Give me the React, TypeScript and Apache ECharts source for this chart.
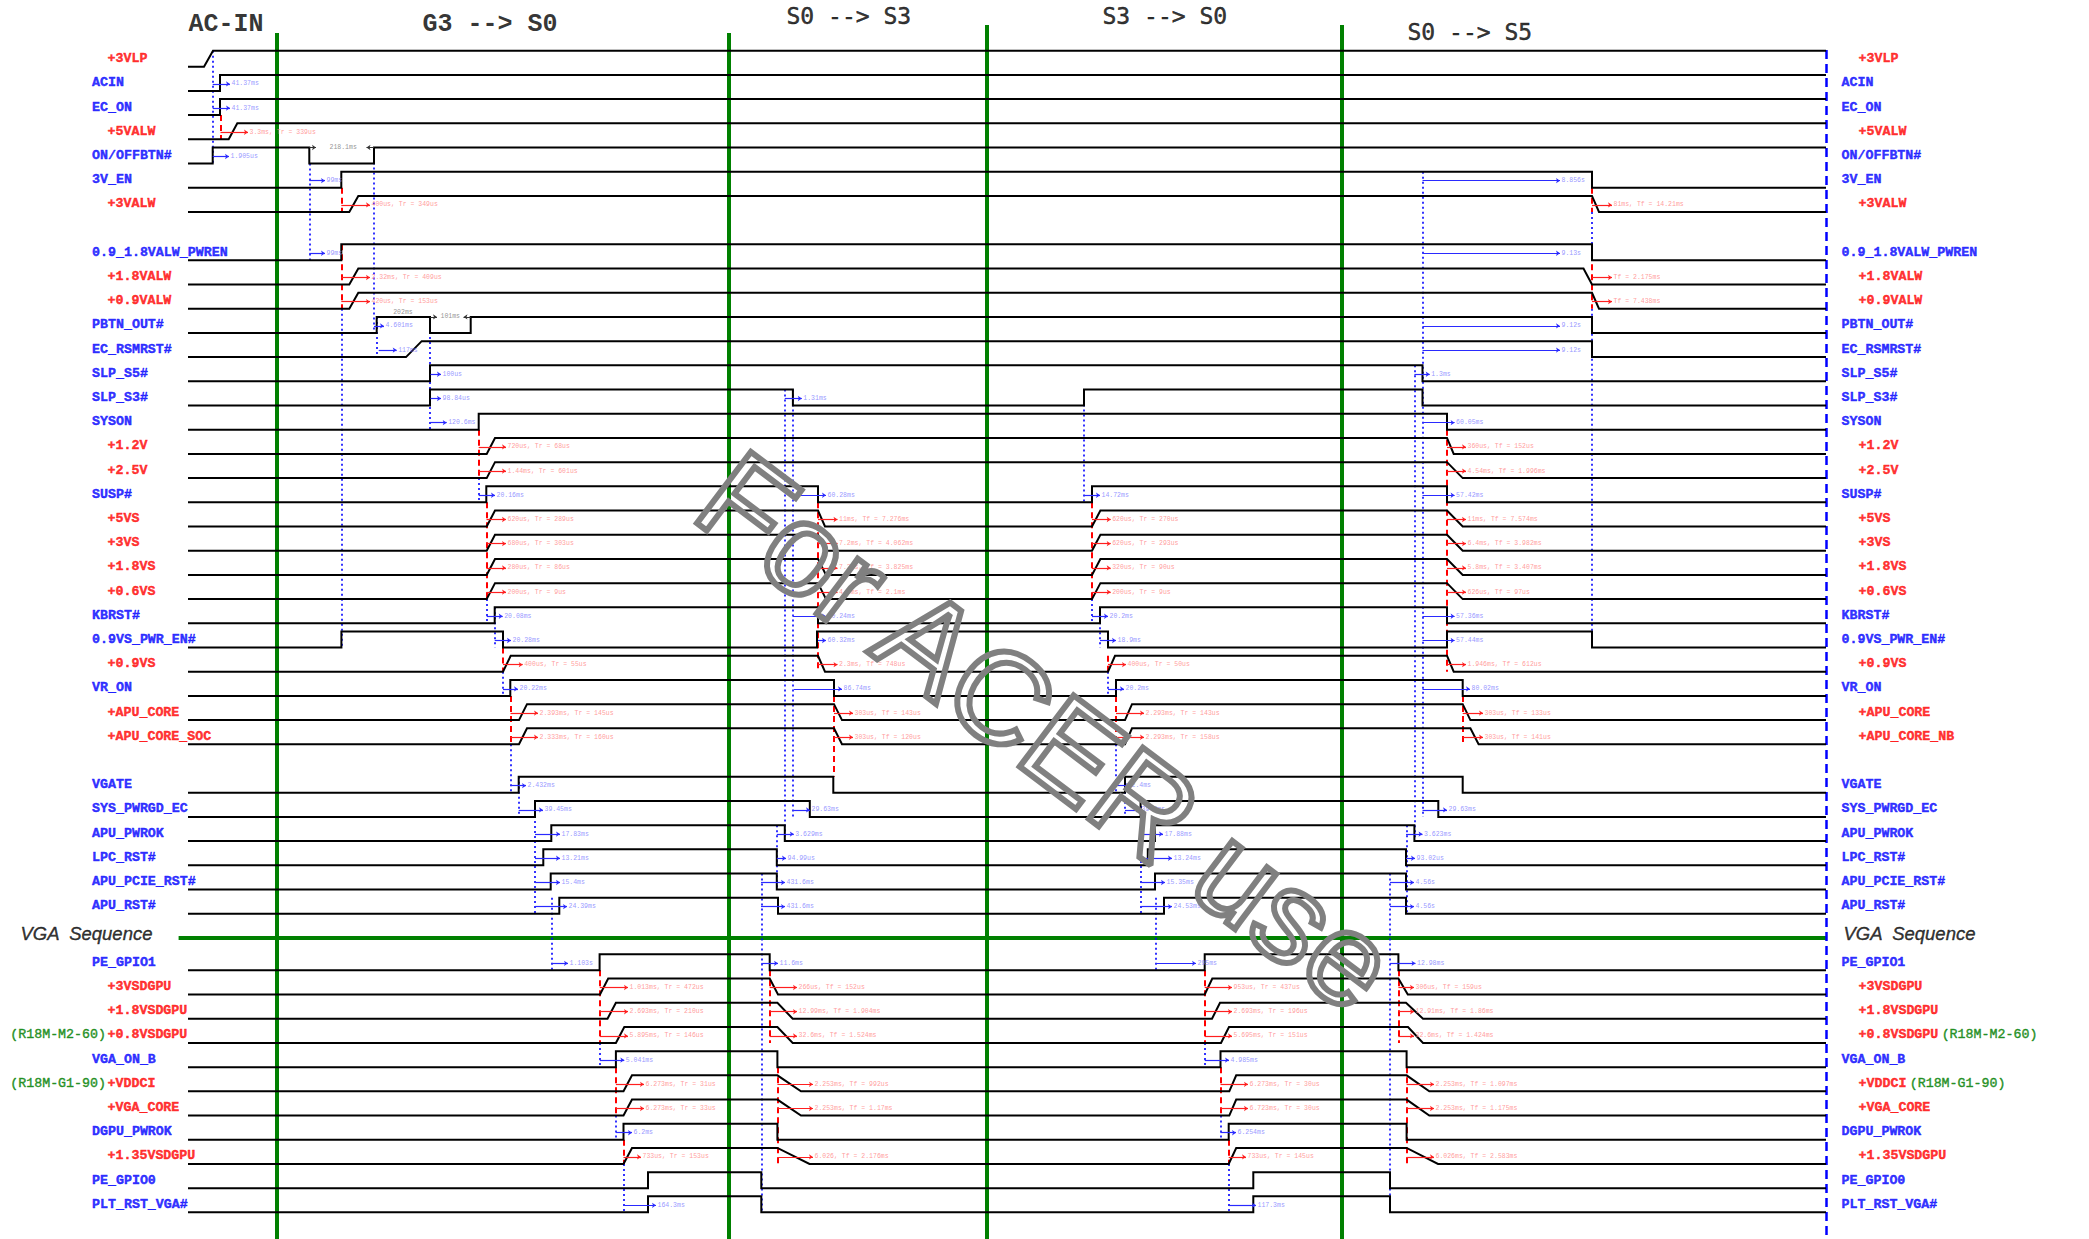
import React, { useEffect, useRef } from "react";
import * as echarts from "echarts";

// ---------------- data ----------------
const leftNames = ["+3VLP","ACIN","EC_ON","+5VALW","ON/OFFBTN#","3V_EN","+3VALW","0.9_1.8VALW_PWREN","+1.8VALW","+0.9VALW","PBTN_OUT#","EC_RSMRST#","SLP_S5#","SLP_S3#","SYSON","+1.2V","+2.5V","SUSP#","+5VS","+3VS","+1.8VS","+0.6VS","KBRST#","0.9VS_PWR_EN#","+0.9VS","VR_ON","+APU_CORE","+APU_CORE_SOC","VGATE","SYS_PWRGD_EC","APU_PWROK","LPC_RST#","APU_PCIE_RST#","APU_RST#","PE_GPIO1","+3VSDGPU","+1.8VSDGPU","+0.8VSDGPU","VGA_ON_B","+VDDCI","+VGA_CORE","DGPU_PWROK","+1.35VSDGPU","PE_GPIO0","PLT_RST_VGA#"];
const rightNames = leftNames.map((n) => (n === "+APU_CORE_SOC" ? "+APU_CORE_NB" : n));
// 1 = power rail (red label), 0 = control signal (blue label)
const railFlags = [1,0,0,1,0,0,1,0,1,1,0,0,0,0,0,1,1,0,1,1,1,1,0,0,1,0,1,1,0,0,0,0,0,0,0,1,1,1,0,1,1,0,1,0,0];
// row slot of each signal (gaps after +3VALW, +APU_CORE_SOC and the VGA divider)
const rowSlots = [0,1,2,3,4,5,6,8,9,10,11,12,13,14,15,16,17,18,19,20,21,22,23,24,25,26,27,28,30,31,32,33,34,35,37.34,38.34,39.34,40.34,41.34,42.34,43.34,44.34,45.34,46.34,47.34];
const boardTagIdx = [37, 39];
const boardTags = ["(R18M-M2-60)", "(R18M-G1-90)"];

// transitions per signal on the timeline: [start, end] (start==end -> step, else ramp); level toggles each edge
const edges = [
  [[204,213]],
  [[220,220]],
  [[220,220]],
  [[228.7,237.3]],
  [[212.7,212.7],[309.3,309.3],[374,374]],
  [[341.3,341.3],[1592,1592]],
  [[349.3,358.3],[1592,1599]],
  [[341.3,341.3],[1592,1592]],
  [[349.3,358.3],[1583.5,1592]],
  [[349.3,358.3],[1592,1599]],
  [[376.7,376.7],[430,430],[470.7,470.7],[1592,1592]],
  [[406,421.7],[1592,1592]],
  [[430,430],[1422.5,1422.5]],
  [[430,430],[792.9,792.9],[1084,1084],[1422.5,1422.5]],
  [[478.7,478.7],[1447,1447]],
  [[486.7,495],[1447,1453.7]],
  [[486.7,495],[1447,1462.7]],
  [[486.3,486.3],[818,818],[1092,1092],[1447,1447]],
  [[486.7,495],[818,825],[1092,1100.4],[1447,1462.7]],
  [[486.7,495],[818,826],[1092,1100.4],[1447,1462.7]],
  [[486.7,495],[818,826],[1092,1100.4],[1447,1462.7]],
  [[486.7,495],[818,826],[1092,1100.4],[1447,1462.7]],
  [[494.7,494.7],[818,818],[1100,1100],[1447,1447]],
  [[341.4,341.4],[503,503],[817,817],[1108,1108],[1447,1447],[1592,1592]],
  [[503,510.7],[818,825],[1108,1115],[1447,1453.7]],
  [[510.3,510.3],[834,834],[1116,1116],[1462.7,1462.7]],
  [[519,527],[834,842],[1125,1132],[1462.7,1470.4]],
  [[519,527],[834,842],[1125,1132],[1470.4,1478.6]],
  [[518.7,518.7],[833.3,833.3],[1125,1125],[1462.7,1462.7]],
  [[535,535],[809.8,809.8],[1140.6,1140.6],[1438.3,1438.3]],
  [[551.3,551.3],[784.8,784.8],[1155,1155],[1414.4,1414.4]],
  [[543.3,543.3],[776.8,776.8],[1147.8,1147.8],[1406,1406]],
  [[550.7,550.7],[776.8,776.8],[1155,1155],[1406,1406]],
  [[559.3,559.3],[778,778],[1164,1164],[1406,1406]],
  [[599.6,599.6],[769.7,769.7],[1204.7,1204.7],[1398.4,1398.4]],
  [[600,608.2],[769.7,778],[1204.7,1212.3],[1398.4,1407.8]],
  [[607.5,615.9],[777.4,792.7],[1212,1220],[1406,1423]],
  [[615.9,624.3],[777.4,792.7],[1221,1229],[1408,1423]],
  [[615.9,615.9],[777.4,777.4],[1220.5,1220.5],[1406.6,1406.6]],
  [[623.5,632],[777.4,801],[1229.3,1236.2],[1406.6,1429.3]],
  [[623.5,632],[777.4,801],[1229.3,1236.2],[1406.6,1429.3]],
  [[623.5,623.5],[777.4,777.4],[1228.7,1228.7],[1406.6,1406.6]],
  [[623.5,632],[777.4,809.5],[1228.7,1236.2],[1406.6,1438]],
  [[648,648],[761.3,761.3],[1253.3,1253.3],[1390,1390]],
  [[648,648],[761.3,761.3],[1253.3,1253.3],[1390,1390]],
];

const phaseNames = ["AC-IN", "G3 --> S0", "S0 --> S3", "S3 --> S0", "S0 --> S5"];
const phaseBounds = [277, 729, 987, 1342];

// timing annotations: [row slot, from, to, text]
const blueNotes: [number, number, number, string][] = [
  [1,212.7,230,"41.37ms"],[2,212.7,230,"41.37ms"],[4,212.7,229,"1.905us"],[5,309.3,325,"99ms"],[8,309.3,325,"99ms"],
  [11,374,384,"4.601ms"],[12,378.7,396.7,"117ms"],[13,430.5,441,"100us"],[14,430.5,441,"98.84us"],[15,430,446.7,"120.6ms"],
  [18,478.7,495,"20.16ms"],[23,486.7,502.7,"20.08ms"],[24,494.7,511,"20.28ms"],[26,503,518,"20.22ms"],[30,510.5,526,"2.432ms"],
  [31,518.7,543,"39.45ms"],[32,535,560,"17.83ms"],[33,535,560,"13.21ms"],[34,535,560,"15.4ms"],[35,535,567,"24.39ms"],
  [37.34,551.3,568,"1.103s"],[41.34,599.8,624.3,"5.041ms"],[44.34,615.9,632,"6.2ms"],[47.34,623.5,656,"164.3ms"],
  [14,784.8,801.8,"1.31ms"],[18,792.9,826,"60.28ms"],[23,792.9,826,"60.24ms"],[24,818,826,"60.32ms"],[26,793.8,842,"86.74ms"],
  [31,793.8,810,"29.63ms"],[32,776.8,793.8,"3.629ms"],[33,776.8,786,"94.99us"],[34,761,785,"431.6ms"],[35,761,785,"431.6ms"],
  [37.34,761.3,778,"11.6ms"],
  [18,1084,1100,"14.72ms"],[23,1092,1108,"20.2ms"],[24,1100,1116,"18.9ms"],[26,1108,1124,"20.2ms"],[30,1116,1130,"2.4ms"],
  [31,1125,1140,"39.4ms"],[32,1140.6,1163,"17.88ms"],[33,1140.6,1172,"13.24ms"],[34,1140.6,1165,"15.35ms"],[35,1140.6,1172,"24.53ms"],
  [37.34,1155.5,1196,"295ms"],[41.34,1204.7,1229,"4.985ms"],[44.34,1220.5,1236,"6.254ms"],[47.34,1228.7,1256,"117.3ms"],
  [5,1422.5,1560,"8.856s"],[8,1422.5,1560,"9.13s"],[11,1422.5,1560,"9.12s"],[12,1422.5,1560,"9.12s"],[13,1414.4,1429.7,"1.3ms"],
  [15,1422.5,1454.6,"60.05ms"],[18,1422.5,1454.6,"57.42ms"],[23,1422.5,1454.6,"57.36ms"],[24,1422.5,1454.6,"57.44ms"],
  [26,1422.5,1470,"80.02ms"],[31,1422.5,1447,"29.63ms"],[32,1406,1422.5,"3.623ms"],[33,1406,1415,"93.02us"],
  [34,1390,1414,"4.56s"],[35,1390,1414,"4.56s"],[37.34,1390,1415.5,"12.98ms"],
];
const redNotes: [number, number, number, string][] = [
  [3,220.5,248,"3.3ms, Tr = 339us"],[6,341.3,370,"400us, Tr = 349us"],[9,341.3,370,"2.32ms, Tr = 409us"],[10,341.3,370,"420us, Tr = 153us"],
  [16,478.7,506,"720us, Tr = 68us"],[17,478.7,506,"1.44ms, Tr = 601us"],[19,486.5,506,"620us, Tr = 289us"],[20,486.5,506,"680us, Tr = 303us"],
  [21,486.5,506,"280us, Tr = 86us"],[22,486.5,506,"200us, Tr = 9us"],[25,503,522.7,"400us, Tr = 55us"],
  [27,510.5,538,"2.393ms, Tr = 145us"],[28,510.5,538,"2.333ms, Tr = 160us"],
  [38.34,599.8,628,"1.013ms, Tr = 472us"],[39.34,599.8,628,"2.693ms, Tr = 210us"],[40.34,599.8,628,"5.895ms, Tr = 146us"],
  [42.34,615.9,644,"6.273ms, Tr = 31us"],[43.34,615.9,644,"6.273ms, Tr = 33us"],[45.34,623.5,641,"733us, Tr = 153us"],
  [19,818,837.5,"11ms, Tf = 7.276ms"],[20,818,837.5,"7.2ms, Tf = 4.062ms"],[21,818,837.5,"7.2ms, Tf = 3.825ms"],[22,818,837.5,"4.1ms, Tf = 2.1ms"],
  [25,818,837.5,"2.3ms, Tf = 748us"],[27,834,853,"303us, Tf = 143us"],[28,834,853,"303us, Tf = 120us"],
  [38.34,769.7,797,"266us, Tf = 152us"],[39.34,769.7,797,"12.99ms, Tf = 1.904ms"],[40.34,769.7,797,"32.6ms, Tf = 1.524ms"],
  [42.34,777.4,813,"2.253ms, Tf = 992us"],[43.34,777.4,813,"2.253ms, Tf = 1.17ms"],[45.34,777.4,813,"6.026, Tf = 2.176ms"],
  [19,1092,1110.7,"620us, Tr = 270us"],[20,1092,1110.7,"620us, Tr = 293us"],[21,1092,1110.7,"320us, Tr = 90us"],[22,1092,1110.7,"200us, Tr = 9us"],
  [25,1108,1126,"400us, Tr = 50us"],[27,1116,1144,"2.293ms, Tr = 143us"],[28,1116,1144,"2.293ms, Tr = 158us"],
  [38.34,1204.7,1232,"953us, Tr = 437us"],[39.34,1204.7,1232,"2.693ms, Tr = 196us"],[40.34,1204.7,1232,"5.695ms, Tr = 151us"],
  [42.34,1220.5,1248,"6.273ms, Tr = 30us"],[43.34,1220.5,1248,"6.723ms, Tr = 30us"],[45.34,1228.7,1246,"733us, Tr = 145us"],
  [6,1592,1612,"81ms, Tf = 14.21ms"],[9,1592,1612,"Tf = 2.175ms"],[10,1592,1612,"Tf = 7.438ms"],
  [16,1447,1466,"360us, Tf = 152us"],[17,1447,1466,"4.54ms, Tf = 1.996ms"],[19,1447,1466,"11ms, Tf = 7.574ms"],
  [20,1447,1466,"6.4ms, Tf = 3.982ms"],[21,1447,1466,"5.8ms, Tf = 3.407ms"],[22,1447,1466,"626us, Tf = 97us"],
  [25,1447,1466,"1.946ms, Tf = 612us"],[27,1462.7,1483,"303us, Tf = 133us"],[28,1462.7,1483,"303us, Tf = 141us"],
  [38.34,1398.4,1414,"306us, Tf = 159us"],[39.34,1398.4,1414,"12.91ms, Tf = 1.86ms"],[40.34,1398.4,1414,"32.6ms, Tf = 1.424ms"],
  [42.34,1406.6,1434,"2.253ms, Tf = 1.097ms"],[43.34,1406.6,1434,"2.253ms, Tf = 1.175ms"],[45.34,1406.6,1434,"6.026ms, Tf = 2.583ms"],
];
// pulse-width notes: [y, x, text] and their arrows [y, from, to]
const widthNotes: [number, number, string][] = [[3.34,329,"218.1ms"],[10.14,392.7,"202ms"],[10.34,440,"101ms"]];
const widthArrows: [number, number, number][] = [[3.34,309.3,316],[3.34,374,366.5],[10.34,430,437],[10.34,470.7,463.5]];

// reference lines: [x, yFrom, yTo]
const redRefs: [number, number, number][] = [
  [220.5,2,3],[341.3,5,6],[341.3,7.34,10],[478.7,15,17],[486.5,18,22],[503,24,25],[510.5,26,28],
  [599.8,37.34,40.34],[615.9,41.34,43.34],[623.5,44.34,45.34],
  [769.7,37.34,40.34],[777.4,41.34,45.34],[818,18,25],[834,26,29.34],
  [1092,18,22],[1108,24.34,25],[1116,26,28],[1204.7,37.34,40.34],[1220.5,41.34,43.34],[1228.7,44.34,45.34],
  [1398.4,37.34,40.34],[1406.6,41.34,45.34],[1447,15,25],[1462.7,26,28],[1592,5,6],[1592,7.34,10],
];
const blueRefs: [number, number, number][] = [
  [212.7,-0.66,4],[309.3,4,8],[341.3,10,24],[374,3.34,11],[376.7,10.34,12],[430,10.34,15],
  [478.7,17,18],[486.5,22,23],[494.7,22.34,24],[503,25,26],[510.5,28,30],[518.7,29.34,31],[535,30.34,35],
  [551.3,34.34,37.34],[599.8,40.34,41.34],[615.9,43.34,44.34],[623.5,45.34,47.34],
  [761.3,33.34,47.34],[776.8,31.34,34],[784.8,13.34,32],[792.9,13.34,31],
  [1084,13.34,18],[1092,22,23],[1100,22.34,24],[1108,25,26],[1116,28,30],[1125,29.34,31],[1140.6,30.34,35],
  [1155.5,34.34,37.34],[1204.7,40.34,41.34],[1220.5,43.34,44.34],[1228.7,45.34,47.34],
  [1390,33.34,47.34],[1406.3,31.34,35],[1414.4,12.34,32],[1422.5,4.34,31],[1592,6,7.34],[1592,10,23.34],
];

// ---------------- layout helpers ----------------
const X_START = 188;
const X_END = 1826;
const Y_MIN = -2.756;
const Y_MAX = 48.442;
const HIGH = 0.66;
const MONO = '"Liberation Mono", "DejaVu Sans Mono", monospace';

function waveCoords(i: number) {
  const r = rowSlots[i];
  let lvl = 0;
  const pts: number[][] = [[X_START, r]];
  for (const [a, b] of edges[i]) {
    pts.push([a, r - lvl * HIGH]);
    lvl = 1 - lvl;
    pts.push([b, r - lvl * HIGH]);
  }
  pts.push([X_END, r - lvl * HIGH]);
  return pts;
}

const T = (x: number, y: number, text: string, style: any) => ({ value: [x, y], label: { formatter: text, ...style } });

function buildOption() {
  const labelBase = { fontFamily: MONO, fontWeight: "bold", fontSize: 13.3, textBorderWidth: 0.45 };
  const colorStyle = (c: string) => ({ ...labelBase, color: c, textBorderColor: c });
  const texts: any[] = [];
  leftNames.forEach((n, i) => {
    const y = rowSlots[i] - 0.33;
    const rail = railFlags[i] === 1;
    texts.push(T(rail ? 107 : 91.5, y, n, colorStyle(rail ? "#ff0000" : "#0000ff")));
    const tagK = boardTagIdx.indexOf(i);
    if (tagK >= 0) {
      texts.push(T(106.5, y, boardTags[tagK], { ...colorStyle("#008000"), position: "left", fontWeight: "normal" }));
    }
    const rn = rightNames[i];
    if (tagK >= 0) {
      texts.push(T(1858, y, `{r|${rn}} {g|${boardTags[tagK]}}`, {
        rich: {
          r: colorStyle("#ff0000"),
          g: { fontFamily: MONO, fontSize: 13.3, color: "#008000", textBorderColor: "#008000", textBorderWidth: 0.45 },
        },
      }));
    } else {
      texts.push(T(rail ? 1858 : 1841, y, rn, colorStyle(rail ? "#ff0000" : "#0000ff")));
    }
  });
  const vgaStyle = {
    fontFamily: '"Liberation Sans", Arial, sans-serif', fontStyle: "italic", fontSize: 18.5, color: "#000",
    textBorderColor: "#000", textBorderWidth: 0.4,
  };
  texts.push(T(20, 35.8, "VGA  Sequence", vgaStyle));
  texts.push(T(1843, 35.8, "VGA  Sequence", vgaStyle));

  // phase headers
  const hBold = { fontFamily: MONO, fontWeight: "bold", fontSize: 25, color: "#000" };
  const hThin = { fontFamily: '"DejaVu Sans Mono", monospace', fontSize: 23, color: "#000", textBorderColor: "#000", textBorderWidth: 0.5 };
  const headerPos = [[188, -1.76, hBold], [422, -1.76, hBold], [786, -2.1, hThin], [1102, -2.1, hThin], [1407, -1.43, hThin]];
  phaseNames.forEach((p, i) => texts.push(T(headerPos[i][0] as number, headerPos[i][1] as number, p, headerPos[i][2])));

  const noteStyle = { fontFamily: MONO, fontSize: 6.5 };
  blueNotes.forEach(([r, , x2, t]) => texts.push(T(x2 + 1, r - 0.29, t, { ...noteStyle, color: "#7c7cff" })));
  redNotes.forEach(([r, , x2, t]) => texts.push(T(x2 + 1, r - 0.29, t, { ...noteStyle, color: "#ff8383" })));
  widthNotes.forEach(([y, x, t]) => texts.push(T(x, y, t, { ...noteStyle, color: "#777" })));

  const lineSeries = (data: any[], lineStyle: any, extra: any = {}) => ({
    type: "lines",
    coordinateSystem: "cartesian2d",
    silent: true,
    data,
    lineStyle: { opacity: 1, ...lineStyle },
    ...extra,
  });

  return {
    animation: false,
    backgroundColor: "#ffffff",
    grid: { left: 0, right: 0, top: 0, bottom: 0 },
    xAxis: { type: "value", min: 0, max: 2089, show: false },
    yAxis: { type: "value", min: Y_MIN, max: Y_MAX, inverse: true, show: false },
    series: [
      lineSeries(
        phaseBounds.map((x, i) => ({ coords: [[x, i < 2 ? -1.39 : -1.72], [x, Y_MAX]] }))
          .concat([{ coords: [[178.6, 36], [X_END, 36]] }]),
        { color: "#008000", width: 4 },
        { z: 2 }
      ),
      lineSeries([{ coords: [[X_END, -0.69], [X_END, Y_MAX]] }], { color: "#0000ff", width: 2.5, type: [9, 5] }, { z: 2 }),
      lineSeries(blueRefs.map(([x, a, b]) => ({ coords: [[x, a], [x, b]] })), { color: "#0000ff", width: 1.6, type: [2, 3] }, { z: 3 }),
      lineSeries(redRefs.map(([x, a, b]) => ({ coords: [[x, a], [x, b]] })), { color: "#ff0000", width: 2, type: [6, 4] }, { z: 4 }),
      lineSeries(leftNames.map((_, i) => ({ coords: waveCoords(i) })), { color: "#000000", width: 2 }, { polyline: true, z: 5 }),
      lineSeries(blueNotes.map(([r, a, b]) => ({ coords: [[a, r - 0.29], [b, r - 0.29]] })), { color: "#2a2aff", width: 1.2 },
        { symbol: ["none", "arrow"], symbolSize: 4, z: 6 }),
      lineSeries(redNotes.map(([r, a, b]) => ({ coords: [[a, r - 0.29], [b, r - 0.29]] })), { color: "#ff1f1f", width: 1.2 },
        { symbol: ["none", "arrow"], symbolSize: 4, z: 6 }),
      lineSeries(widthArrows.map(([y, a, b]) => ({ coords: [[a, y], [b, y]] })), { color: "#333", width: 1 },
        { symbol: ["none", "arrow"], symbolSize: 4, z: 6 }),
      {
        type: "scatter",
        silent: true,
        symbol: "circle",
        symbolSize: 1,
        itemStyle: { color: "rgba(0,0,0,0)" },
        label: { show: true, position: "right", distance: 0 },
        data: texts,
        z: 8,
      },
    ],
    graphic: [
      {
        type: "text",
        x: 1047,
        y: 731,
        rotation: -0.646,
        z: 100,
        silent: true,
        style: {
          text: "For ACER use",
          font: '130px "Liberation Sans", Arial, sans-serif',
          fill: "rgba(0,0,0,0)",
          stroke: "#808080",
          lineWidth: 6,
          align: "center",
          verticalAlign: "middle",
          textAlign: "center",
          textVerticalAlign: "middle",
        },
      },
    ],
  };
}

export default function App() {
  const ref = useRef<HTMLDivElement>(null);
  useEffect(() => {
    if (!ref.current) return;
    const chart = echarts.init(ref.current, null, { renderer: "svg" });
    chart.setOption(buildOption() as any);
    return () => chart.dispose();
  }, []);
  return (
    <div
      ref={ref}
      style={{ position: "absolute", left: 0, top: 0, width: 2089, height: 1239, background: "#fff" }}
    />
  );
}
